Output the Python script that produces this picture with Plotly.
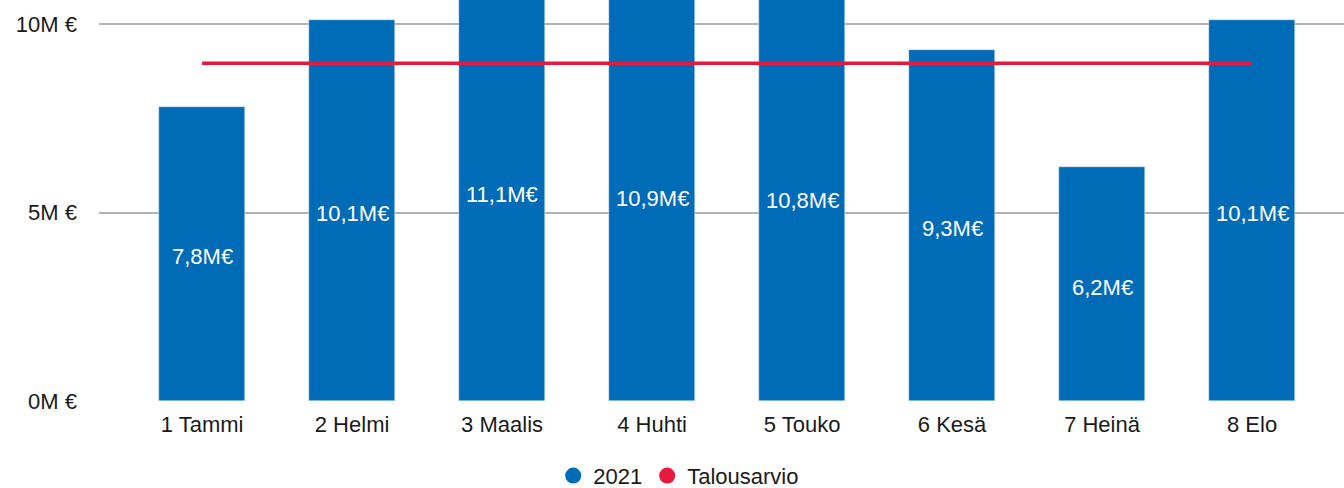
import plotly.graph_objects as go

months = ["1 Tammi", "2 Helmi", "3 Maalis", "4 Huhti", "5 Touko", "6 Kesä", "7 Heinä", "8 Elo"]
values_2021 = [7.8e6, 10.1e6, 11.1e6, 10.9e6, 10.8e6, 9.3e6, 6.2e6, 10.1e6]
budget = [8.96e6, 8.96e6, 8.96e6, 8.96e6, 8.96e6, 8.96e6, 8.96e6, 8.96e6]
ytick_vals = [0, 5e6, 10e6]
ytick_text = ["0M €", "5M €", "10M €"]

BLUE = "#006BB6"
RED = "#E8193F"
FONT = "Liberation Sans, Arial, sans-serif"
FS = 22

labels = [f"{v/1e6:.1f}".replace(".", ",") + "M€" for v in values_2021]
xi = list(range(len(months)))

fig = go.Figure()
fig.add_trace(go.Bar(x=xi, y=values_2021, marker_color=BLUE, width=0.573,
                     showlegend=False, hoverinfo="skip"))
fig.add_trace(go.Scatter(x=xi, y=budget, mode="lines",
                         line=dict(color=RED, width=3.5), showlegend=False, hoverinfo="skip"))
# legend entries
fig.add_trace(go.Scatter(x=[None], y=[None], mode="markers", name="2021",
                         marker=dict(color=BLUE, size=16, symbol="circle")))
fig.add_trace(go.Scatter(x=[None], y=[None], mode="markers", name="Talousarvio",
                         marker=dict(color=RED, size=16, symbol="circle")))

for x, v, t in zip(xi, values_2021, labels):
    fig.add_annotation(x=x, y=v / 2, text=t, showarrow=False, yshift=-3,
                       font=dict(color="white", size=FS, family=FONT))

fig.update_layout(
    width=1344, height=488,
    margin=dict(l=99, r=0, t=0, b=87),
    paper_bgcolor="white", plot_bgcolor="white",
    font=dict(family=FONT, size=FS, color="#1a1a1a"),
    xaxis=dict(range=[-0.687, 7.613], tickvals=xi, ticktext=months, showgrid=False,
               zeroline=False, showline=False, ticks="", ticklabelstandoff=8, fixedrange=True),
    yaxis=dict(range=[0, 10.637e6], tickvals=ytick_vals, ticktext=ytick_text,
               showgrid=True, gridcolor="#B3B3B3", gridwidth=2, zeroline=False,
               showline=False, ticks="", ticklabelstandoff=21),
    legend=dict(orientation="h", xref="container", x=0.505, xanchor="center",
                yref="container", y=0.025, yanchor="middle",
                font=dict(size=FS), itemwidth=30, tracegroupgap=0),
    bargap=0,
)

fig.write_html("out.html", config={"displayModeBar": False},
               post_script="document.body.style.margin='0';document.body.style.overflow='hidden';")
